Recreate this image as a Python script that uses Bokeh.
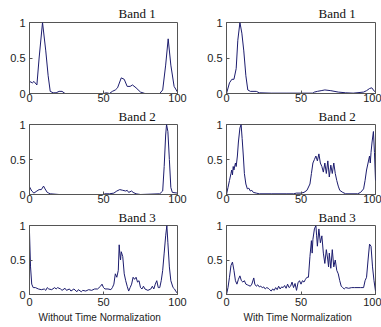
from bokeh.plotting import figure
from bokeh.layouts import column, row
from bokeh.models import Range1d, FixedTicker, Title
from bokeh.embed import file_html
from bokeh.resources import INLINE

# ---------------- data ----------------
titles = ["Band 1", "Band 2", "Band 3"]
xlabels = ["Without Time Normalization", "With Time Normalization"]
x_ticks = [0, 50, 100]
y_ticks = [0, 0.5, 1]
y_tick_labels = {0: "0", 0.5: "0.5", 1: "1"}

b1_raw_x = [0, 2, 3, 5, 6.5, 8.8, 11, 12.6, 14, 16, 18, 20, 22, 24, 30, 40, 50, 52, 54, 56, 58, 59.5, 62, 64, 66, 68, 69.6, 72, 75, 78, 85, 88, 90, 92, 93.7, 95.5, 97.7, 100]
b1_raw_y = [0.17, 0.15, 0.17, 0.12, 0.5, 1.0, 0.6, 0.25, 0.03, 0.01, 0.01, 0.03, 0.03, 0.0, 0.0, 0.0, 0.0, 0.01, 0.0, 0.03, 0.05, 0.08, 0.22, 0.2, 0.1, 0.1, 0.12, 0.08, 0.02, 0.0, 0.0, 0.0, 0.05, 0.4, 0.77, 0.4, 0.1, 0.02]

b1_norm_x = [0, 2, 3.6, 5, 6.5, 7.6, 9, 10.3, 11.6, 13, 14.3, 16, 20, 22, 30, 40, 50, 58, 59, 61, 63.5, 66, 70, 75, 80, 85, 92, 94, 96, 97.5, 99.3, 100]
b1_norm_y = [0.0, 0.15, 0.2, 0.2, 0.35, 0.75, 1.0, 0.85, 0.6, 0.25, 0.05, 0.03, 0.03, 0.01, 0.005, 0.005, 0.005, 0.005, 0.02, 0.03, 0.04, 0.05, 0.04, 0.02, 0.01, 0.005, 0.02, 0.04, 0.07, 0.08, 0.03, 0.02]

b2_raw_x = [0, 1.5, 3, 5, 6.5, 8, 9.5, 10.5, 12, 13, 14, 20, 30, 40, 50, 51, 54, 57, 59, 61, 63, 65, 66, 67, 69, 70, 72, 75, 88, 90, 91, 92, 92.6, 93.5, 94.5, 95.5, 96.5, 100]
b2_raw_y = [0.11, 0.05, 0.02, 0.05, 0.07, 0.07, 0.12, 0.08, 0.03, 0.02, 0.01, 0.0, 0.0, 0.0, 0.0, 0.01, 0.01, 0.02, 0.05, 0.07, 0.06, 0.05, 0.06, 0.03, 0.05, 0.03, 0.01, 0.0, 0.01, 0.05, 0.4, 0.85, 1.0, 0.9, 0.5, 0.1, 0.03, 0.02]

b2_norm_x = [0, 1, 2, 3, 3.5, 4, 4.5, 5, 6, 6.5, 7.3, 8, 9, 9.8, 10.5, 11.3, 12, 13, 14, 15, 16, 17, 18, 20, 22, 30, 40, 45, 47, 50, 52, 54, 56, 57, 58, 59, 60, 61, 62, 63, 64, 65, 66, 67, 68, 69, 70, 71, 72, 73, 74, 75, 76, 78, 80, 88, 90, 92, 93, 94, 95, 96, 96.5, 97, 97.7, 98.6, 99.3, 100]
b2_norm_y = [0.0, 0.1, 0.2, 0.3, 0.35, 0.28, 0.4, 0.35, 0.45, 0.4, 0.55, 0.75, 0.95, 1.0, 0.8, 0.55, 0.3, 0.15, 0.08, 0.09, 0.05, 0.06, 0.03, 0.02, 0.01, 0.01, 0.01, 0.01, 0.02, 0.02, 0.03, 0.06, 0.15, 0.3, 0.45, 0.5, 0.55, 0.48, 0.58, 0.45, 0.4, 0.32, 0.45, 0.3, 0.48, 0.25, 0.42, 0.3, 0.45, 0.3, 0.2, 0.12, 0.06, 0.03, 0.01, 0.01, 0.03, 0.08, 0.2, 0.35, 0.45, 0.55, 0.45, 0.6, 0.75, 0.9, 0.6, 0.2]

b3_raw_x = [0, 0.7, 1.5, 2.5, 4, 6, 8, 10, 11, 12, 13, 15, 17, 18, 19, 21, 22, 24, 25, 27, 28, 30, 32, 33, 35, 36, 38, 40, 42, 44, 46, 48, 49, 50, 51, 53, 55, 56, 57, 58, 59, 60, 60.6, 61, 61.5, 62, 63, 64, 65, 66, 67, 68, 69, 70, 71, 72, 73, 74, 75, 76, 77, 78, 80, 82, 83, 84, 85, 86, 87, 88, 89, 90, 91, 92, 92.8, 93.5, 94.5, 95.5, 97, 98, 99, 100]
b3_raw_y = [0.9, 0.4, 0.15, 0.1, 0.1, 0.08, 0.07, 0.08, 0.06, 0.1, 0.08, 0.07, 0.1, 0.08, 0.1, 0.08, 0.06, 0.09, 0.06, 0.08, 0.05, 0.08, 0.04, 0.07, 0.04, 0.06, 0.05, 0.07, 0.06, 0.08, 0.08, 0.12, 0.15, 0.1, 0.08, 0.08, 0.07, 0.1, 0.15, 0.3, 0.25, 0.35, 0.72, 0.6, 0.5, 0.62, 0.55, 0.3, 0.2, 0.12, 0.05, 0.1, 0.15, 0.25, 0.22, 0.25, 0.18, 0.2, 0.1, 0.08, 0.12, 0.08, 0.06, 0.08, 0.12, 0.08, 0.15, 0.2, 0.1, 0.1, 0.2, 0.35, 0.6, 0.85, 1.0, 0.75, 0.4, 0.2, 0.1, 0.08, 0.04, 0.02]

b3_norm_x = [0, 1, 2, 3, 4, 5, 6, 7, 8, 9, 10, 11, 12, 13, 14, 15, 16, 17, 18.3, 19, 20, 21, 22, 23, 24, 25, 26, 27, 28, 29, 30, 31, 32, 33, 34, 35, 36, 37, 38, 39, 40, 41, 42, 43, 44, 45, 46, 47, 48, 49, 50, 51, 52, 53, 54, 55, 56, 57, 57.5, 58, 59, 60, 60.5, 61, 62, 63, 64, 65, 66, 67, 68, 68.5, 69, 70, 71, 72, 73, 74, 75, 76, 77, 78, 79, 80, 82, 84, 86, 90, 92, 93, 94, 95, 96, 97, 98, 99, 100]
b3_norm_y = [0.0, 0.1, 0.25, 0.42, 0.47, 0.35, 0.2, 0.15, 0.22, 0.27, 0.2, 0.18, 0.2, 0.15, 0.14, 0.13, 0.12, 0.15, 0.24, 0.15, 0.12, 0.14, 0.11, 0.12, 0.1, 0.11, 0.08, 0.1, 0.09, 0.07, 0.05, 0.08, 0.06, 0.1, 0.07, 0.12, 0.08, 0.11, 0.1, 0.13, 0.09, 0.15, 0.1, 0.12, 0.18, 0.1, 0.16, 0.06, 0.17, 0.2, 0.15, 0.2, 0.18, 0.22, 0.25, 0.25, 0.55, 0.78, 0.6, 0.8, 0.95, 1.0, 0.85, 0.7, 0.95, 0.75, 0.85, 0.6, 0.45, 0.65, 0.5, 0.4, 0.6, 0.38, 0.65, 0.4, 0.5, 0.35, 0.3, 0.2, 0.12, 0.1, 0.08, 0.1, 0.09, 0.1, 0.1, 0.1, 0.1, 0.2, 0.25, 0.5, 0.73, 0.7, 0.4, 0.2, 0.05]

series = [
    [(b1_raw_x, b1_raw_y), (b1_norm_x, b1_norm_y)],
    [(b2_raw_x, b2_raw_y), (b2_norm_x, b2_norm_y)],
    [(b3_raw_x, b3_raw_y), (b3_norm_x, b3_norm_y)],
]

# ---------------- layout ----------------
col_w = [190, 191]
col_left = [29, 36]
col_right = [13, 6]
title_offset = [89, 92]
xlabel_offset = [9, 17]
row_h = [106, 101, 120]
row_top = [22, 16, 16]
row_bottom = [13, 13, 33]
x_standoff = [0, 0, 3]
title_standoff = [4, 1, 1]

LINE = "#1c1c6e"
FRAME = "#555555"
TXT = "#222222"
SANS = "Liberation Sans"
SERIF = "Liberation Serif"


def style_axis(ax, standoff):
    ax.major_tick_in = 3
    ax.major_tick_out = 0
    ax.minor_tick_in = 0
    ax.minor_tick_out = 0
    ax.axis_line_color = FRAME
    ax.major_tick_line_color = FRAME
    ax.major_label_text_font = SANS
    ax.major_label_text_font_size = "11px"
    ax.major_label_text_color = TXT
    ax.major_label_standoff = standoff


rows = []
for r in range(3):
    figs = []
    for c in range(2):
        p = figure(width=col_w[c], height=row_h[r], output_backend="svg",
                   toolbar_location=None, x_range=Range1d(0, 100), y_range=Range1d(0, 1),
                   min_border_left=col_left[c], min_border_right=col_right[c],
                   min_border_top=row_top[r], min_border_bottom=row_bottom[r])
        p.grid.visible = False
        p.outline_line_color = FRAME
        p.outline_line_width = 1
        p.background_fill_color = "white"
        p.border_fill_color = "white"
        xs, ys = series[r][c]
        p.line(xs, ys, line_color=LINE, line_width=1)

        xax = p.xaxis[0]
        yax = p.yaxis[0]
        xax.ticker = FixedTicker(ticks=x_ticks)
        yax.ticker = FixedTicker(ticks=y_ticks)
        yax.major_label_overrides = y_tick_labels
        style_axis(xax, x_standoff[r])
        style_axis(yax, 4)

        if r == 2:
            p.add_layout(Title(text=xlabels[c], align="left", offset=xlabel_offset[c],
                               standoff=3, text_font=SANS, text_font_size="10px",
                               text_font_style="normal", text_color=TXT), "below")

        p.title.text = titles[r]
        p.title.align = "left"
        p.title.offset = title_offset[c]
        p.title.standoff = title_standoff[r]
        p.title.text_font = SERIF
        p.title.text_font_size = "13px"
        p.title.text_font_style = "normal"
        p.title.text_color = "#111111"
        figs.append(p)
    rows.append(row(*figs, spacing=0))

layout = column(*rows, spacing=0)
open("out.html", "w").write(file_html(layout, INLINE))
